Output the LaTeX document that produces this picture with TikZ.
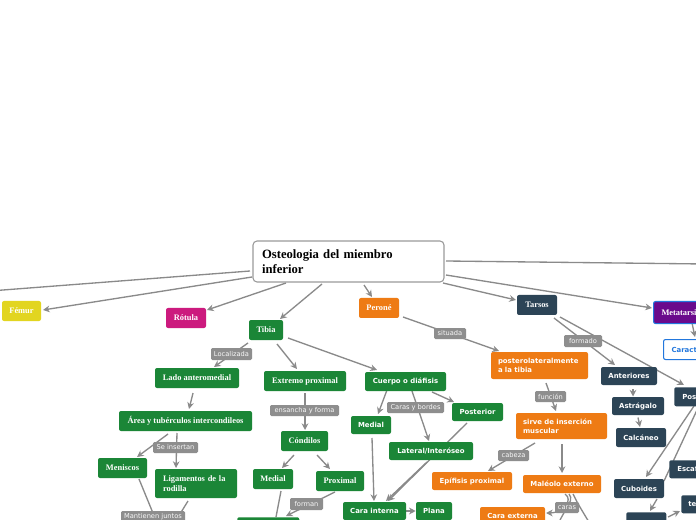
\documentclass[tikz,border=0pt]{standalone}
\usepackage{fontspec}
\setmainfont{Liberation Serif}
\newfontfamily\sansb{DejaVu Sans}
\usetikzlibrary{arrows.meta,calc,backgrounds}
\definecolor{cgreen}{HTML}{1B8637}
\definecolor{corange}{HTML}{EE7B14}
\definecolor{cslate}{HTML}{2C4456}
\definecolor{cgray}{HTML}{8E8E8E}
\definecolor{cline}{HTML}{8A8A8A}
\definecolor{cyellow}{HTML}{E2D520}
\definecolor{cmag}{HTML}{CC1A7E}
\definecolor{cpurple}{HTML}{6A0A8C}
\definecolor{cblue}{HTML}{2277DD}
\definecolor{cborder}{HTML}{9A9A9A}
\tikzset{
  base/.style={rounded corners=1.5pt, inner sep=0pt, text=white},
  serifbox/.style={base, font=\fontsize{6.3}{7.5}\selectfont\bfseries},
  sansbox/.style={base, font=\sansb\fontsize{5.2}{6.6}\selectfont\bfseries},
  lbl/.style={fill=cgray, rounded corners=1pt, inner sep=0pt, text=white!95!gray, font=\sansb\fontsize{5}{6}\selectfont},
  edge/.style={draw=cline, line width=1pt},
  arr/.style={edge, -{Stealth[length=5pt,width=5pt]}},
}
\newcommand\mybox[7]{\node[#2, minimum width={(#5-#3)*0.75pt}, minimum height={(#6-#4)*0.75pt}] (#1) at ({(#3+#5)/2},{(#4+#6)/2}) {#7};}
\newcommand\cutbox[7]{\node[#2, anchor=north west, minimum height={#5*0.75pt}, inner xsep={#6*0.75pt}, text width=100pt, align=left] (#1) at (#3,#4) {#7};}
\begin{document}
\begin{tikzpicture}[x=0.75pt,y=-0.75pt]
\useasboundingbox (0,0) rectangle (696,520);
% main
\node[draw=cborder, fill=white, line width=0.8pt, rounded corners=3pt, inner sep=0pt, minimum width={191*0.75pt}, minimum height={41*0.75pt}, text width={173*0.75pt}, align=left, font=\fontsize{9.5}{11.25}\selectfont\bfseries] (main) at (348.5,261.5) {Osteologia del miembro\\inferior};
% first level
\mybox{femur}{serifbox,fill=cyellow}{2}{301}{41}{321}{Fémur}
\mybox{rotula}{serifbox,fill=cmag}{166}{308}{206}{328}{Rótula}
\mybox{tibia}{serifbox,fill=cgreen}{249}{320}{283}{340}{Tibia}
\mybox{perone}{serifbox,fill=corange}{359}{298}{399}{318}{Peroné}
\mybox{tarsos}{serifbox,fill=cslate}{517}{295}{557}{315}{Tarsos}
\cutbox{meta}{serifbox,fill=cpurple,draw=cblue,line width=0.8pt}{653}{301}{22}{8}{Metatarsianos}
\cutbox{caract}{sansbox,fill=white,draw=cblue,line width=0.8pt,text=cblue}{663}{339}{20}{8}{Características}
% tibia branch
\mybox{lado}{serifbox,fill=cgreen}{155}{368}{239}{388}{Lado anteromedial}
\mybox{area}{serifbox,fill=cgreen}{119}{411}{252}{431}{Área y tubérculos intercondileos}
\mybox{meniscos}{serifbox,fill=cgreen}{98}{458}{147}{478}{Meniscos}
\mybox{lig}{serifbox,fill=cgreen,align=left,text width={66*0.75pt}}{155}{469}{237}{498}{Ligamentos de la\\rodilla}
\mybox{extremo}{serifbox,fill=cgreen}{264}{371}{346}{391}{Extremo proximal}
\mybox{condilos}{serifbox,fill=cgreen}{281}{431}{328}{451}{Cóndilos}
\mybox{medialA}{serifbox,fill=cgreen}{253}{469}{293}{489}{Medial}
\mybox{proximal}{serifbox,fill=cgreen}{316}{471}{364}{491}{Proximal}
\node[serifbox, fill=cgreen, anchor=north west, minimum width={62*0.75pt}, minimum height={20*0.75pt}] (bottomA) at (237,517) {};
\mybox{cuerpo}{sansbox,fill=cgreen}{365}{372}{446}{391}{Cuerpo o diáfisis}
\mybox{medialB}{sansbox,fill=cgreen}{351}{416}{391}{434}{Medial}
\mybox{posterior}{sansbox,fill=cgreen}{452}{403}{503}{421}{Posterior}
\mybox{lateral}{sansbox,fill=cgreen}{389}{442}{473}{460}{Lateral/Interóseo}
\mybox{carainterna}{sansbox,fill=cgreen}{343}{502}{406}{520}{Cara interna}
\mybox{plana}{sansbox,fill=cgreen}{416}{502}{452}{520}{Plana}
% perone branch
\mybox{postero}{sansbox,fill=corange,align=left,text width={83*0.75pt}}{491}{352}{588}{379}{posterolateralmente\\a la tibia}
\mybox{sirve}{sansbox,fill=corange,align=left,text width={77*0.75pt}}{516}{413}{607}{439}{sirve de inserción\\muscular}
\mybox{epifisis}{sansbox,fill=corange}{432}{472}{512}{490}{Epífisis proximal}
\mybox{maleolo}{sansbox,fill=corange}{523}{475}{601}{493}{Maléolo externo}
\mybox{caraexterna}{sansbox,fill=corange}{480}{507}{545}{525}{Cara externa}
% tarsos branch
\mybox{anteriores}{sansbox,fill=cslate}{601}{367}{657}{385}{Anteriores}
\mybox{astragalo}{sansbox,fill=cslate}{612}{397}{664}{415}{Astrágalo}
\mybox{calcaneo}{sansbox,fill=cslate}{616}{428}{666}{447}{Calcáneo}
\mybox{cuboides}{sansbox,fill=cslate}{614}{479}{664}{498}{Cuboides}
\cutbox{posteriores}{sansbox,fill=cslate}{674}{387}{19}{8}{Posteriores}
\cutbox{escafoides}{sansbox,fill=cslate}{669}{460}{18}{8}{Escafoides}
\cutbox{te}{sansbox,fill=cslate}{681}{495}{18}{7}{tercer cuneiforme}
\node[sansbox, fill=cslate, anchor=north west, minimum width={40*0.75pt}, minimum height={20*0.75pt}] (bottomB) at (626,512) {};
% free ends
\coordinate (offL) at (-10,291);
\coordinate (offR) at (705,264);
\coordinate (mj) at (164,540);
\coordinate (cdA) at (556,532);
\coordinate (cdB) at (595,532);
% labels
\mybox{lLoc}{lbl}{211}{348}{252}{360}{Localizada}
\mybox{lIns}{lbl}{153}{442}{198}{453}{Se insertan}
\mybox{lMan}{lbl}{121}{511}{185}{522}{Mantienen juntos}
\mybox{lEns}{lbl}{270}{405}{339}{416}{ensancha y forma}
\mybox{lFor}{lbl}{290}{498}{323}{510}{forman}
\mybox{lCar}{lbl}{387}{402}{444}{413}{Caras y bordes}
\mybox{lSit}{lbl}{434}{328}{466}{339}{situada}
\mybox{lFun}{lbl}{535}{391}{566}{402}{función}
\mybox{lCab}{lbl}{498}{450}{529}{461}{cabeza}
\mybox{lFmd}{lbl}{564}{335}{602}{347}{formado}
\mybox{lCrs}{lbl}{555}{502}{579}{513}{caras}
% connectors
\begin{scope}[on background layer]
\fill[white] (0,0) rectangle (696,520);
\draw[edge] ($(main)+(-98.5,9.5)$) -- (offL);
\draw[arr] ($(main)+(-96.5,15.5)$) -- ($(femur)+(21.5,-1)$);
\draw[arr] ($(main)+(-62.5,21.5)$) -- ($(rotula)+(21,-8)$);
\draw[arr] ($(main)+(-26.5,22.5)$) -- ($(tibia)+(14,-11)$);
\draw[arr] ($(main)+(15.5,23.5)$) -- ($(perone)+(-7,-11)$);
\draw[arr] ($(main)+(94.5,21.5)$) -- ($(tarsos)+(-21,-5)$);
\draw[arr] ($(main)+(97.5,13.5)$) -- ($(meta.north west)+(-1,7)$);
\draw[edge] ($(main)+(97.5,-0.5)$) -- (offR);
% tibia
\draw[arr] ($(tibia)+(-18,13)$) -- ($(lado)+(17,-11)$);
\draw[arr] ($(tibia)+(11,14)$) -- ($(extremo)+(-8,-12)$);
\draw[arr] ($(tibia)+(22,8)$) -- ($(cuerpo)+(-28.5,-11.5)$);
\draw[arr] ($(lado)+(-4,15)$) -- ($(area)+(3.5,-12)$);
\draw[arr] ($(area)+(-17.5,13)$) -- ($(meniscos)+(14.5,-11)$);
\draw[arr] ($(area)+(-8.5,12)$) -- ($(lig)+(-20,-15.5)$);
\draw[edge] ($(meniscos)+(16.5,11)$) -- (mj);
\draw[edge] ($(lig)+(-8,17.5)$) -- (mj);
\draw[arr] ($(extremo)+(0,12)$) -- ($(condilos)+(0.5,-11)$);
\draw[arr] ($(condilos)+(-10.5,14)$) -- ($(medialA)+(9,-11)$);
\draw[arr] ($(condilos)+(12.5,14)$) -- ($(proximal)+(-10,-12)$);
\draw[arr] ($(proximal)+(-5,11)$) -- ($(bottomA.north west)+(49,-1)$);
\draw[edge] ($(medialA)+(8,12)$) -- ($(bottomA.north west)+(39,0)$);
\draw[arr] ($(cuerpo)+(-18.5,8.5)$) -- ($(medialB)+(7,-11)$);
\draw[arr] ($(cuerpo)+(6.5,9.5)$) -- ($(lateral)+(-2,-10)$);
\draw[arr] ($(cuerpo)+(26.5,10.5)$) -- ($(posterior)+(-23.5,-10)$);
\draw[arr] ($(medialB)+(1,13)$) -- ($(carainterna)+(-0.5,-10)$);
\draw[arr] ($(lateral)+(-4,11)$) -- ($(carainterna)+(11.5,-10)$);
\draw[arr] ($(posterior)+(-10.5,11)$) -- ($(carainterna)+(13.5,-10)$);
\draw[arr] (carainterna.east) -- (plana.west);
% perone
\draw[arr] ($(perone)+(24,9)$) -- ($(postero)+(-40.5,-14.5)$);
\draw[arr] ($(postero)+(6.5,17.5)$) -- ($(sirve)+(-5.5,-15)$);
\draw[arr] ($(sirve)+(-26.5,17)$) -- ($(epifisis)+(16,-10)$);
\draw[arr] ($(sirve)+(0.5,18)$) -- ($(maleolo)+(0,-11)$);
\draw[arr] ($(maleolo)+(3,10)$) .. controls ($(maleolo)+(12,16)$) and ($(caraexterna)+(50,-3)$) .. ($(caraexterna)+(33.5,-3)$);
\draw[edge] ($(maleolo)+(7,10)$) .. controls ($(maleolo)+(14,18)$) and ($(cdA)+(4,-20)$) .. (cdA);
\draw[edge] ($(maleolo)+(11,10)$) .. controls ($(maleolo)+(16,20)$) .. (cdB);
% tarsos
\draw[arr] ($(tarsos)+(17,13)$) -- ($(anteriores)+(-14,-11)$);
\draw[arr] ($(tarsos)+(23,12)$) -- ($(posteriores.north west)+(10,-2)$);
\draw[arr] ($(anteriores)+(4,13)$) -- ($(astragalo)+(-5,-9.5)$);
\draw[arr] ($(astragalo)+(0,11.5)$) -- ($(calcaneo)+(-1,-10.5)$);
\draw[arr] ($(posteriores.north west)+(20,19)$) -- ($(cuboides)+(7,-11.5)$);
\draw[edge] ($(posteriores.north west)+(23,23)$) -- ($(cuboides)+(25,-7.5)$);
\draw[arr] ($(meta.north west)+(39,22)$) -- ($(caract.north west)+(32,-2)$);
\draw[arr] ($(cuboides)+(18,10.5)$) -- ($(bottomB.north west)+(24,-1)$);
\draw[arr] ($(bottomB.north west)+(42,5)$) -- ($(te.north west)+(-1,16)$);
\end{scope}
\end{tikzpicture}
\end{document}
